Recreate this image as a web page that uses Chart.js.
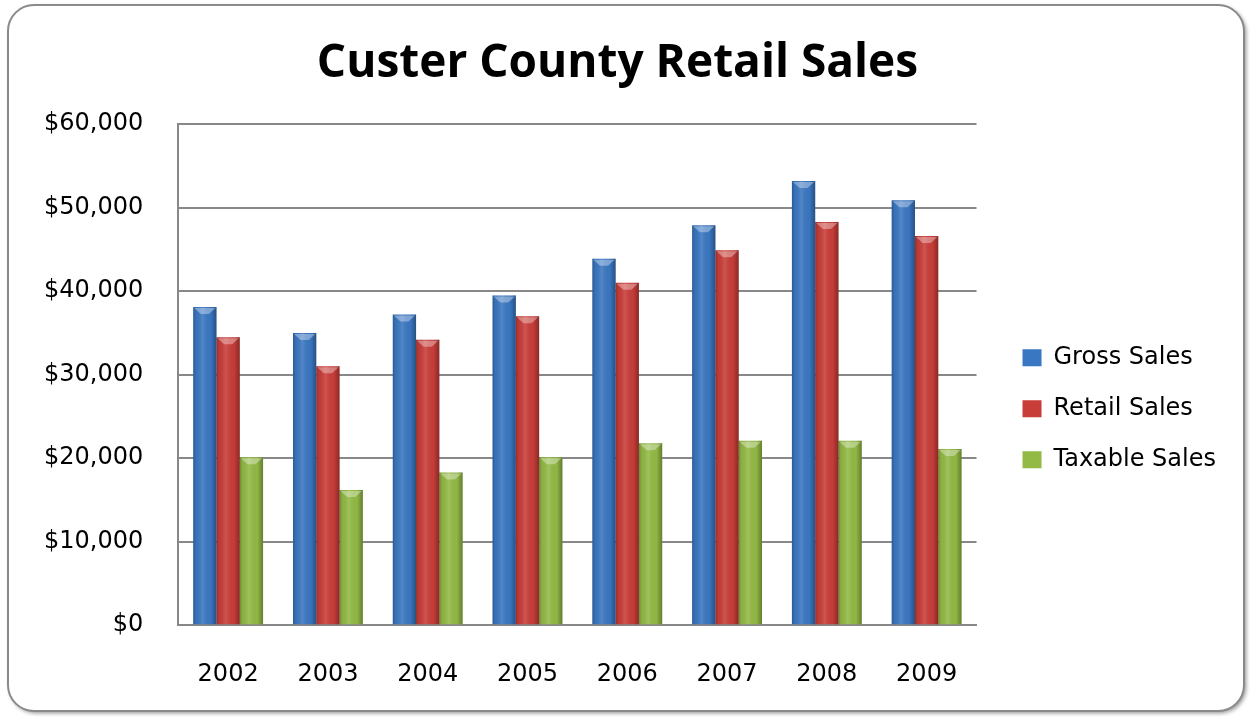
<!DOCTYPE html>
<html>
<head>
<meta charset="utf-8">
<script src="https://cdn.jsdelivr.net/npm/chart.js@4.4.1/dist/chart.umd.min.js"></script>
<style>
  html, body { margin: 0; padding: 0; background: #ffffff; overflow: hidden; }
  #wrap { width: 1251px; height: 717px; position: relative; }
</style>
</head>
<body>
<div id="wrap"><canvas id="salesChart" width="1251" height="717"></canvas></div>
<script>
const years = ["2002", "2003", "2004", "2005", "2006", "2007", "2008", "2009"];
const grossSales = [38100, 35000, 37200, 39500, 43900, 47900, 53200, 50900];
const retailSales = [34500, 31000, 34200, 37000, 41000, 44900, 48300, 46600];
const taxableSales = [20100, 16200, 18300, 20100, 21800, 22100, 22100, 21100];
const seriesNames = ["Gross Sales", "Retail Sales", "Taxable Sales"];
const seriesColors = ["#3a77c2", "#c93d39", "#93ba45"];

const TITLE_FONT = "'Open Sans', Lato, sans-serif";
const FONT = "'DejaVu Sans', 'Open Sans', sans-serif";

// rounded frame around the whole chart, like the office chart border
const framePlugin = {
    id: "frame",
    beforeDraw(chart) {
        const ctx = chart.ctx;
        const x = 8, y = 5, w = 1236, h = 706, r = 26;
        ctx.save();
        ctx.shadowColor = "rgba(0,0,0,0.45)";
        ctx.shadowBlur = 4;
        ctx.shadowOffsetX = 2;
        ctx.shadowOffsetY = 2;
        ctx.beginPath();
        ctx.roundRect(x, y, w, h, r);
        ctx.fillStyle = "#ffffff";
        ctx.fill();
        ctx.shadowColor = "transparent";
        ctx.lineWidth = 2;
        ctx.strokeStyle = "#8a8a8a";
        ctx.stroke();
        ctx.restore();
    }
};

// glossy cylinder look on top of the flat bars
const shadePlugin = {
    id: "shade",
    afterDatasetsDraw(chart) {
        const ctx = chart.ctx;
        ctx.save();
        chart.data.datasets.forEach((ds, di) => {
            const meta = chart.getDatasetMeta(di);
            meta.data.forEach((bar) => {
                const left = bar.x - bar.width / 2;
                const right = bar.x + bar.width / 2;
                const top = bar.y;
                const bottom = bar.base;
                const g = ctx.createLinearGradient(left, 0, right, 0);
                g.addColorStop(0, "rgba(0,0,0,0.25)");
                g.addColorStop(0.12, "rgba(0,0,0,0.05)");
                g.addColorStop(0.4, "rgba(255,255,255,0.12)");
                g.addColorStop(0.75, "rgba(0,0,0,0.02)");
                g.addColorStop(1, "rgba(0,0,0,0.32)");
                ctx.fillStyle = g;
                ctx.fillRect(left, top, right - left, bottom - top);

                // bevel at the top of each bar
                ctx.fillStyle = "rgba(255,255,255,0.35)";
                ctx.beginPath();
                ctx.moveTo(left + 1, top + 1);
                ctx.lineTo(right - 1, top + 1);
                ctx.lineTo(bar.x + 4, top + 7);
                ctx.lineTo(bar.x - 4, top + 7);
                ctx.closePath();
                ctx.fill();
            });
        });
        ctx.restore();
    }
};

const datasets = [grossSales, retailSales, taxableSales].map((values, i) => {
    return {
        label: seriesNames[i],
        data: values,
        backgroundColor: seriesColors[i],
        borderWidth: 0
    };
});

new Chart(document.getElementById("salesChart"), {
    type: "bar",
    data: { labels: years, datasets: datasets },
    plugins: [framePlugin, shadePlugin],
    options: {
        responsive: false,
        animation: false,
        devicePixelRatio: 1,
        layout: { padding: { left: 9, right: 25, top: 21, bottom: -7 } },
        datasets: { bar: { categoryPercentage: 0.70, barPercentage: 1.0 } },
        plugins: {
            tooltip: { enabled: false },
            title: {
                display: true,
                text: "Custer County Retail Sales",
                color: "#000000",
                font: { family: TITLE_FONT, size: 46, weight: "bold" },
                padding: { top: 15, bottom: 33 }
            },
            legend: {
                position: "right",
                maxWidth: 300,
                title: { display: true, text: " ", padding: { top: 0, bottom: 46 }, font: { size: 22 } },
                labels: {
                    color: "#000000",
                    font: { family: FONT, size: 24 },
                    boxWidth: 19,
                    boxHeight: 17,
                    padding: 27
                }
            }
        },
        scales: {
            x: {
                grid: { display: false, drawTicks: false },
                border: { color: "#888888", width: 2 },
                ticks: { color: "#000000", font: { family: FONT, size: 24 }, padding: 35 }
            },
            y: {
                min: 0,
                max: 60000,
                grid: { color: "#888888", lineWidth: 2, drawTicks: false },
                border: { color: "#888888", width: 2 },
                ticks: {
                    stepSize: 10000,
                    color: "#000000",
                    font: { family: FONT, size: 24 },
                    padding: 35,
                    callback: (v) => "$" + v.toLocaleString("en-US")
                }
            },
            // empty spacer between the plot and the legend
            gap: {
                type: "linear",
                position: "right",
                display: true,
                grid: { display: false, drawTicks: false },
                border: { display: false },
                ticks: { display: false },
                afterFit: (scale) => { scale.width = 19; }
            }
        }
    }
});
</script>
</body>
</html>
